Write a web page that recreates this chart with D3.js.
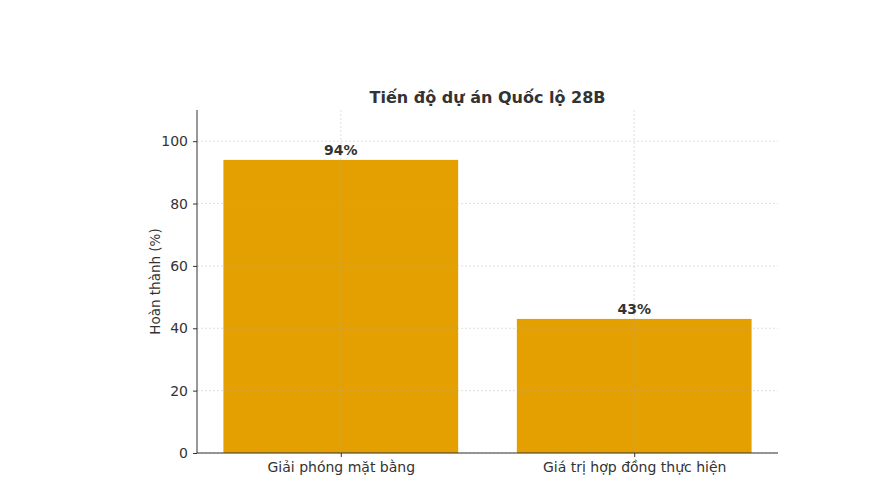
<!DOCTYPE html>
<html>
<head>
<meta charset="utf-8">
<script src="https://cdn.jsdelivr.net/npm/d3@7"></script>
<style>
  body { margin: 0; background: #fff; }
  text { font-family: "DejaVu Sans", sans-serif; fill: #333; }
</style>
</head>
<body>
<svg id="chart" width="886" height="485"></svg>
<script>
// data
const categories = ["Giải phóng mặt bằng", "Giá trị hợp đồng thực hiện"];
const values = [94, 43];
const yTicks = [0, 20, 40, 60, 80, 100];
const chartTitle = "Tiến độ dự án Quốc lộ 28B";
const yLabel = "Hoàn thành (%)";

const margin = {top: 110, left: 197, right: 108, bottom: 32};
const width = 886 - margin.left - margin.right;
const height = 485 - margin.top - margin.bottom;

let svg = d3.select('#chart');
let plot = svg.append('g')
    .attr('transform', 'translate(' + margin.left + ',' + margin.top + ')');

let scaleX = d3.scaleLinear().domain([-0.49, 1.49]).range([0, width]);
let scaleY = d3.scaleLinear().domain([0, 110]).range([height, 0]);

// bars
plot.selectAll('rect.bar')
    .data(values)
    .enter().append('rect')
    .attr('class', 'bar')
    .attr('x', (d, i) => scaleX(i - 0.4))
    .attr('width', scaleX(0.4) - scaleX(-0.4))
    .attr('y', d => scaleY(d))
    .attr('height', d => height - scaleY(d))
    .attr('fill', '#e3a000');

// grid on top, dashed and faint
let grid = plot.append('g');
grid.selectAll('line.h')
    .data(yTicks)
    .enter().append('line')
    .attr('x1', 0).attr('x2', width)
    .attr('y1', d => scaleY(d)).attr('y2', d => scaleY(d))
    .attr('stroke', '#b0b0b0').attr('stroke-opacity', 0.5)
    .attr('stroke-dasharray', '2,2').attr('stroke-width', 0.8);
grid.selectAll('line.v')
    .data(categories)
    .enter().append('line')
    .attr('x1', (d, i) => scaleX(i)).attr('x2', (d, i) => scaleX(i))
    .attr('y1', 0).attr('y2', height)
    .attr('stroke', '#b0b0b0').attr('stroke-opacity', 0.5)
    .attr('stroke-dasharray', '2,2').attr('stroke-width', 0.8);

// value labels
plot.selectAll('text.val')
    .data(values)
    .enter().append('text')
    .attr('x', (d, i) => scaleX(i))
    .attr('y', d => scaleY(d) - 5)
    .attr('text-anchor', 'middle')
    .attr('font-size', 14)
    .attr('font-weight', 'bold')
    .text(d => d + '%');

// axes
let yAxis = plot.append('g')
    .call(d3.axisLeft(scaleY).tickValues(yTicks).tickSize(4).tickPadding(5));
let xAxis = plot.append('g')
    .attr('transform', 'translate(0,' + height + ')')
    .call(d3.axisBottom(scaleX).tickValues([0, 1]).tickSize(4).tickPadding(5)
        .tickFormat(i => categories[i]));
[yAxis, xAxis].forEach(a => {
    a.selectAll('text').attr('font-size', 14).style('font-family', '"DejaVu Sans", sans-serif').attr('fill', '#333');
    a.selectAll('path, line').attr('stroke', '#333').attr('stroke-width', 1);
});
yAxis.select('.domain').attr('d', 'M0,' + height + 'V0');
xAxis.select('.domain').attr('d', 'M0,0H' + width);

svg.append('text')
    .attr('x', margin.left + width / 2)
    .attr('y', 103)
    .attr('text-anchor', 'middle')
    .attr('font-size', 16)
    .attr('font-weight', 'bold')
    .text(chartTitle);

svg.append('text')
    .attr('transform', 'translate(160,' + (margin.top + height / 2) + ') rotate(-90)')
    .attr('text-anchor', 'middle')
    .attr('font-size', 13.5)
    .text(yLabel);
</script>
</body>
</html>
